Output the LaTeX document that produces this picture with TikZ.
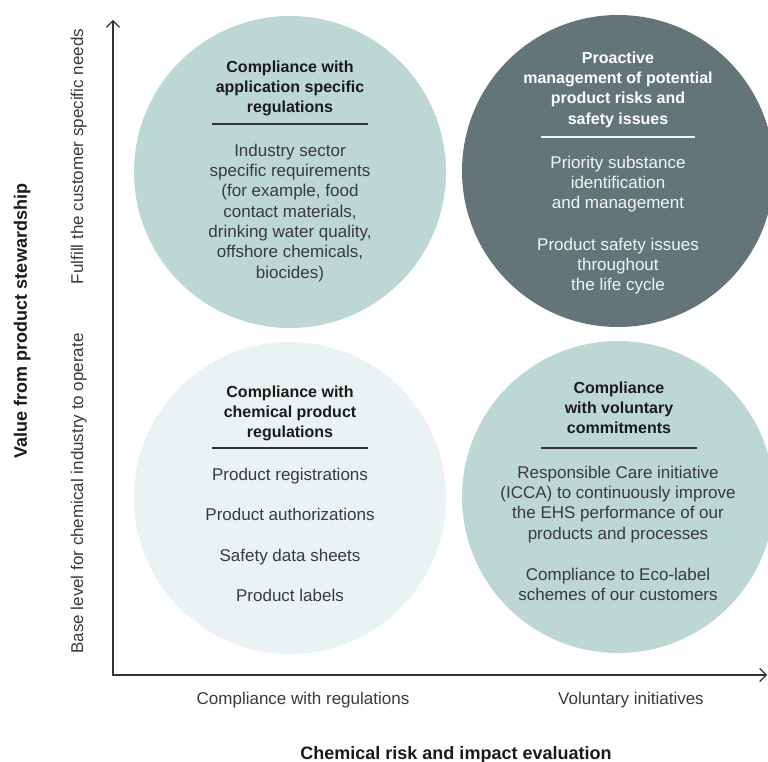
\documentclass[tikz,border=0pt]{standalone}
\usepackage{fontspec}
\setmainfont{Liberation Sans}
\usetikzlibrary{arrows.meta}
\definecolor{tealA}{HTML}{BDD7D5}
\definecolor{slate}{HTML}{637579}
\definecolor{paleA}{HTML}{E9F3F3}
\definecolor{axisc}{HTML}{333333}
\definecolor{bodyc}{HTML}{3A3A3A}
\definecolor{titlec}{HTML}{1A1A1A}
\definecolor{lighttxt}{HTML}{F4F4F4}
\begin{document}
\begin{tikzpicture}[x=1pt,y=-1pt,
  bubble/.style={circle, minimum size=312pt, inner sep=0pt, draw=none},
  ttl/.style={font=\fontsize{16}{20.3}\selectfont\bfseries, align=center, anchor=north, inner sep=0pt, text=titlec},
  bdy/.style={font=\fontsize{17}{20.3}\selectfont, align=center, anchor=north, inner sep=0pt, text=bodyc},
  seprule/.style={line width=1.2pt, draw=axisc},
  axisline/.style={line width=1.4pt, draw=axisc, line join=miter,
     arrows={Straight Barb[length=6.5pt,width=13pt,line width=1.2pt]-Straight Barb[length=6.5pt,width=13pt,line width=1.2pt]}},
  axlbl/.style={font=\fontsize{17}{20}\selectfont, text=bodyc, anchor=base, inner sep=0pt},
  axttl/.style={font=\fontsize{18}{20}\selectfont\bfseries, text=titlec, anchor=base, inner sep=0pt}]
\useasboundingbox (0,0) rectangle (768,762);

% circles
\node[bubble, fill=tealA] (cTL) at (290,172) {};
\node[bubble, fill=slate] (cTR) at (618,171) {};
\node[bubble, fill=paleA] (cBL) at (290,498) {};
\node[bubble, fill=tealA] (cBR) at (618,497) {};

% top-left
\node[ttl] (tTL) at (290,57.8) {\strut Compliance with\\application specific\\regulations};
\draw[seprule] ([shift={(-78,-48)}]cTL.center) -- ([shift={(78,-48)}]cTL.center);
\node[bdy] (bTL) at (290,141.8) {\strut Industry sector\\specific requirements\\(for example, food\\contact materials,\\drinking water quality,\\offshore chemicals,\\biocides)};

% top-right
\node[ttl, text=white] (tTR) at (618,48.8) {\strut Proactive\\management of potential\\product risks and\\safety issues};
\draw[seprule, draw=lighttxt] ([shift={(-77,-34)}]cTR.center) -- ([shift={(77,-34)}]cTR.center);
\node[bdy, text=lighttxt] (bTR) at (618,153.8) {\strut Priority substance\\identification\\and management\\[21pt]Product safety issues\\throughout\\the life cycle};

% bottom-left
\node[ttl] (tBL) at (290,382.8) {\strut Compliance with\\chemical product\\regulations};
\draw[seprule] ([shift={(-78,-50)}]cBL.center) -- ([shift={(78,-50)}]cBL.center);
\node[bdy] (bBL) at (290,465.8) {\strut Product registrations\\[20.2pt]Product authorizations\\[20.2pt]Safety data sheets\\[20.2pt]Product labels};

% bottom-right
\node[ttl] (tBR) at (619,378.8) {\strut Compliance\\with voluntary\\commitments};
\draw[seprule] ([shift={(-77,-49)}]cBR.center) -- ([shift={(79,-49)}]cBR.center);
\node[bdy] (bBR) at (618,463.8) {\strut Responsible Care initiative\\(ICCA) to continuously improve\\the EHS performance of our\\products and processes\\[21pt]Compliance to Eco-label\\schemes of our customers};

% axes
\coordinate (origin) at (113,675);
\coordinate (ytip) at (113,20);
\coordinate (xtip) at (767,675);
\draw[axisline] (ytip) -- (origin) -- (xtip);

% axis labels
\node[axlbl] (xl1) at (303,704) {Compliance with regulations};
\node[axlbl] (xl2) at (631,704) {Voluntary initiatives};
\node[axttl] (xt) at (456,759) {Chemical risk and impact evaluation};
\node[axlbl, rotate=90] (yl1) at (83,156.5) {Fulfill the customer specific needs};
\node[axlbl, rotate=90] (yl2) at (83,493.5) {Base level for chemical industry to operate};
\node[axttl, rotate=90] (yt) at (27,321) {Value from product stewardship};
\end{tikzpicture}
\end{document}
